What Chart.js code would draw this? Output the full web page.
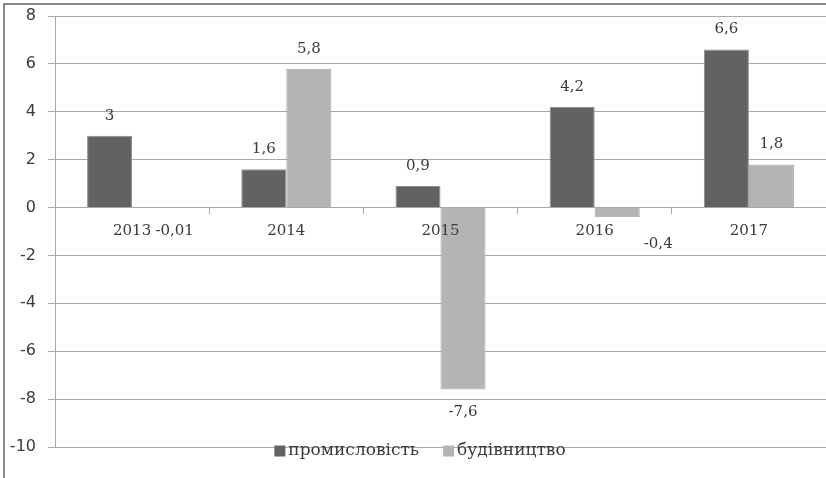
<!DOCTYPE html>
<html>
<head>
<meta charset="utf-8">
<script src="https://cdn.jsdelivr.net/npm/chart.js@4.4.1/dist/chart.umd.min.js"></script>
<style>
  html, body { margin: 0; padding: 0; background: #fff; }
  #wrap { width: 826px; height: 478px; position: relative; }
</style>
</head>
<body>
<div id="wrap"><canvas id="chart" width="826" height="478"></canvas></div>
<script>
// данные
const years = ["2013", "2014", "2015", "2016", "2017"];
const industry = [3, 1.6, 0.9, 4.2, 6.6];
const construction = [-0.01, 5.8, -7.6, -0.4, 1.8];
const seriesNames = ["промисловість", "будівництво"];
const yTicks = [8, 6, 4, 2, 0, -2, -4, -6, -8, -10];

const darkColor = "#626262";
const lightColor = "#b4b4b4";
const gridColor = "#a8a8a8";
const textColor = "#3a3a3a";

// сдвиг подписей, которые автор передвинул вручную
const labelNudge = { "1-0": [20, 0], "1-3": [41, 4] };

function fmt(v) {
  return String(v).replace(".", ",");
}

// рамка
const framePlugin = {
  id: "frame",
  beforeDraw(chart) {
    const ctx = chart.ctx;
    ctx.save();
    ctx.fillStyle = "#fff";
    ctx.fillRect(0, 0, chart.width, chart.height);
    ctx.strokeStyle = "#8a8a8a";
    ctx.lineWidth = 2;
    ctx.beginPath();
    ctx.moveTo(4, chart.height);
    ctx.lineTo(4, 4);
    ctx.lineTo(chart.width, 4);
    ctx.stroke();
    ctx.restore();
  },
};

// подписи значений
const valueLabels = {
  id: "valueLabels",
  afterDatasetsDraw(chart) {
    const ctx = chart.ctx;
    ctx.save();
    ctx.font = "15px 'DejaVu Serif'";
    ctx.fillStyle = textColor;
    ctx.textAlign = "center";
    ctx.textBaseline = "middle";
    chart.data.datasets.forEach((ds, di) => {
      const meta = chart.getDatasetMeta(di);
      meta.data.forEach((bar, i) => {
        const v = ds.data[i];
        const nudge = labelNudge[di + "-" + i] || [0, 0];
        const y = v >= 0 ? bar.y - 20 : bar.y + 23;
        ctx.fillText(fmt(v), bar.x + nudge[0], y + nudge[1]);
      });
    });
    ctx.restore();
  },
};

// легенда поверх области графика
const bottomLegend = {
  id: "bottomLegend",
  afterDraw(chart) {
    const ctx = chart.ctx;
    const area = chart.chartArea;
    ctx.save();
    ctx.font = "17px 'DejaVu Serif'";
    ctx.textBaseline = "middle";
    const sq = 11, gap = 3, spacing = 24;
    const w0 = ctx.measureText(seriesNames[0]).width;
    const w1 = ctx.measureText(seriesNames[1]).width;
    const total = sq + gap + w0 + spacing + sq + gap + w1;
    let x = 420 - total / 2;
    const cy = area.bottom + 4;
    const colors = [darkColor, lightColor];
    seriesNames.forEach((name, i) => {
      ctx.fillStyle = colors[i];
      ctx.fillRect(x, cy - sq / 2, sq, sq);
      x += sq + gap;
      ctx.fillStyle = textColor;
      ctx.fillText(name, x, cy);
      x += (i === 0 ? w0 : w1) + spacing;
    });
    ctx.restore();
  },
};

function setupChart() {
  const ctx = document.getElementById("chart").getContext("2d");
  new Chart(ctx, {
    type: "bar",
    data: {
      labels: years,
      datasets: [
        {
          label: seriesNames[0],
          data: industry,
          backgroundColor: darkColor,
          borderColor: "#8e8e8e",
          borderWidth: 1,
          categoryPercentage: 0.584,
          barPercentage: 1,
        },
        {
          label: seriesNames[1],
          data: construction,
          backgroundColor: lightColor,
          borderColor: "#a6a6a6",
          borderWidth: 1,
          categoryPercentage: 0.584,
          barPercentage: 1,
        },
      ],
    },
    options: {
      responsive: false,
      animation: false,
      layout: { padding: { top: 16, bottom: 31, left: 0, right: 0 } },
      plugins: {
        legend: { display: false },
        tooltip: { enabled: false },
        title: { display: false },
      },
      scales: {
        x: {
          position: { y: 0 },
          afterFit: (s) => {
            s.height = 0;
            s.paddingTop = 0;
            s.paddingBottom = 0;
          },
          grid: {
            display: true,
            drawOnChartArea: false,
            drawTicks: true,
            tickLength: 6,
            offset: true,
            color: gridColor,
          },
          border: { display: true, color: gridColor },
          ticks: {
            z: 1,
            color: textColor,
            font: { family: "DejaVu Serif", size: 15 },
            padding: 9,
            maxRotation: 0,
          },
        },
        y: {
          min: -10,
          max: 8,
          afterFit: (s) => {
            s.width = 55;
            s.paddingTop = 0;
            s.paddingBottom = 0;
          },
          afterBuildTicks: (s) => { s.ticks = yTicks.map((v) => ({ value: v })); },
          grid: { color: gridColor, tickLength: 7 },
          border: { display: true, color: gridColor },
          ticks: {
            color: textColor,
            font: { family: "DejaVu Sans", size: 16 },
            padding: 12,
            callback: (v) => String(v),
          },
        },
      },
    },
    plugins: [framePlugin, valueLabels, bottomLegend],
  });
}

document.addEventListener("DOMContentLoaded", setupChart);
</script>
</body>
</html>
